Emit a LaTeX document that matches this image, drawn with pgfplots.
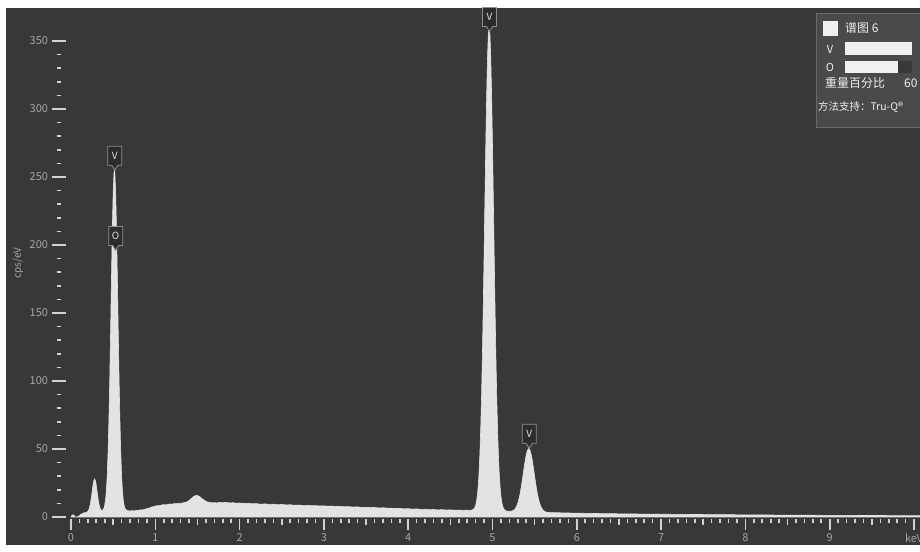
\documentclass[border=0pt]{standalone}
\usepackage{fontspec}
\setmainfont{Noto Sans CJK SC}
\usepackage{pgfplots}
\pgfplotsset{compat=1.18}

\definecolor{panel}{HTML}{383838}
\definecolor{specfill}{HTML}{E3E3E3}
\definecolor{tickcol}{HTML}{D2D2D2}
\definecolor{labcol}{HTML}{A6A6A6}
\definecolor{boxfill}{HTML}{4A4A4A}
\definecolor{boxline}{HTML}{6A6A6A}
\definecolor{lblfill}{HTML}{2C2C2C}
\definecolor{lblline}{HTML}{909090}
\definecolor{lbltext}{HTML}{E0E0E0}
\definecolor{legtext}{HTML}{F0F0F0}

% peak marker: tip at the peak, box above it
\newcommand\peaklabel[3]{%
  \draw[draw=lblline, fill=lblfill, line width=0.8bp]
    (axis cs:#1,#2) -- ++(-3bp,5bp) -- ++(-4bp,0bp) -- ++(0bp,19bp)
    -- ++(14bp,0bp) -- ++(0bp,-19bp) -- ++(-4bp,0bp) -- cycle;
  \node[text=lbltext, font=\fontsize{10}{12}\selectfont, yshift=14.5bp]
    at (axis cs:#1,#2) {#3};
}

\pgfplotsset{
  specaxis/.style={
    scale only axis, width=866bp, height=512bp,
    at={(59bp,33bp)}, anchor=south west,
    xmin=-0.14235, xmax=10.1305, ymin=-1.47, ymax=375,
    axis line style={draw=none},
    tick style={tickcol, line width=1.6bp},
    /pgf/number format/assume math mode=true,
    ticklabel style={font=\fontsize{11}{13}\selectfont, text=labcol},
  }
}

\begin{document}
\begin{tikzpicture}[x=1bp,y=1bp]
\clip (0,0) rectangle (920,552);
\fill[white] (0,0) rectangle (920,552);
\fill[panel] (6,7) rectangle (930,544);

% spectrum + energy axis
\begin{axis}[specaxis, hide y axis,
  xtick={0,...,10}, xticklabels={0,1,2,3,4,5,6,7,8,9,keV},
  minor x tick num=9, xtick pos=left, tick align=outside,
  major tick length=11bp, minor tick length=4.5bp,
  extra x ticks={0.5,1.5,2.5,3.5,4.5,5.5,6.5,7.5,8.5,9.5},
  extra x tick labels={}, extra x tick style={major tick length=6.5bp}]
\addplot[draw=specfill, line width=0.6bp, fill=specfill] coordinates {
(0.00,0) (0.01,1.2) (0.02,1.6) (0.03,1.5) (0.04,0.8) (0.05,0) (0.07,0)
(0.09,0.6) (0.10,1.0) (0.11,1.6) (0.12,2.0) (0.13,2.4) (0.14,2.7) (0.15,3.0)
(0.16,3.1) (0.17,3.2) (0.18,3.3) (0.19,3.6) (0.20,4.2) (0.21,5.1) (0.22,6.9)
(0.23,9.7) (0.24,13.6) (0.25,18.4) (0.26,23.0) (0.27,26.5) (0.28,27.9)
(0.29,26.7) (0.30,23.2) (0.31,18.6) (0.32,13.9) (0.33,10.0) (0.34,7.3)
(0.35,5.7) (0.36,5.0) (0.37,4.9) (0.38,5.3) (0.39,6.4) (0.40,8.6) (0.41,12.7)
(0.42,19.7) (0.43,31.0) (0.44,48.1) (0.45,71.8) (0.46,102.2) (0.47,137.7)
(0.48,175.5) (0.49,210.7) (0.50,238.0) (0.51,253.0) (0.515,255.0) (0.52,253.0)
(0.53,238.0) (0.54,210.7) (0.55,175.5) (0.56,137.7) (0.57,101.8) (0.58,71.6)
(0.59,47.9) (0.60,30.7) (0.61,19.4) (0.62,12.4) (0.63,8.5) (0.64,6.5)
(0.65,5.5) (0.66,5.0) (0.67,4.7) (0.68,4.6) (0.70,4.4) (0.72,4.6) (0.75,4.5)
(0.78,4.8) (0.80,4.9) (0.83,5.3) (0.85,5.2) (0.88,5.8) (0.90,6.1) (0.93,6.6)
(0.95,7.2) (0.98,7.6) (1.00,8.0) (1.03,8.4) (1.05,8.3) (1.08,8.9) (1.10,9.1)
(1.13,8.9) (1.15,9.3) (1.18,9.6) (1.20,9.4) (1.23,9.9) (1.25,9.7) (1.28,10.1)
(1.30,10.0) (1.33,10.4) (1.35,10.7) (1.38,11.2) (1.40,12.1) (1.43,13.7)
(1.46,15.3) (1.49,15.9) (1.52,15.3) (1.55,13.7) (1.58,12.3) (1.61,11.2)
(1.64,10.8) (1.67,10.4) (1.70,10.6) (1.73,10.3) (1.76,10.7) (1.80,10.5)
(1.84,10.8) (1.88,10.3) (1.92,10.5) (1.96,10.1) (2.00,10.3) (2.05,9.9)
(2.10,10.1) (2.15,9.7) (2.20,9.8) (2.25,9.4) (2.30,9.6) (2.35,9.3) (2.40,9.4)
(2.45,9.0) (2.50,9.2) (2.55,8.9) (2.60,9.0) (2.65,8.6) (2.70,8.8) (2.75,8.5)
(2.80,8.6) (2.85,8.3) (2.90,8.4) (2.95,8.1) (3.00,8.2) (3.05,7.9) (3.10,8.0)
(3.15,7.7) (3.20,7.8) (3.25,7.5) (3.30,7.6) (3.35,7.3) (3.40,7.4) (3.45,7.0)
(3.50,7.2) (3.55,6.9) (3.60,7.0) (3.65,6.6) (3.70,6.8) (3.75,6.5) (3.80,6.5)
(3.85,6.2) (3.90,6.3) (3.95,6.0) (4.00,6.1) (4.05,5.8) (4.10,5.9) (4.15,5.6)
(4.20,5.7) (4.25,5.4) (4.30,5.5) (4.35,5.2) (4.40,5.4) (4.45,5.1) (4.50,5.2)
(4.55,5.0) (4.60,5.1) (4.65,4.9) (4.70,5.0) (4.73,4.8) (4.76,5.2) (4.78,6.0)
(4.79,7.0) (4.80,8.5) (4.81,11.3) (4.82,15.7) (4.83,22.4) (4.84,32.2)
(4.85,46.0) (4.86,64.8) (4.87,88.9) (4.88,118.7) (4.89,153.5) (4.90,192.2)
(4.91,232.7) (4.92,272.4) (4.93,307.8) (4.94,336.2) (4.95,354.3) (4.96,360.5)
(4.97,354.2) (4.98,336.1) (4.99,307.7) (5.00,272.3) (5.01,232.6) (5.02,192.1)
(5.03,153.2) (5.04,118.4) (5.05,88.6) (5.06,64.5) (5.07,45.7) (5.08,31.8)
(5.09,22.0) (5.10,15.2) (5.11,10.8) (5.12,8.0) (5.13,6.4) (5.14,5.4)
(5.16,4.5) (5.18,4.2) (5.20,4.2) (5.22,4.2) (5.24,4.6) (5.26,5.4) (5.27,6.1)
(5.28,7.2) (5.29,8.5) (5.30,10.2) (5.31,12.4) (5.32,15.0) (5.33,18.1)
(5.34,21.7) (5.35,25.7) (5.36,29.9) (5.37,34.2) (5.38,38.4) (5.39,42.3)
(5.40,45.6) (5.41,48.2) (5.42,49.7) (5.43,50.3) (5.44,49.6) (5.45,48.1)
(5.46,45.5) (5.47,42.2) (5.48,38.3) (5.49,34.1) (5.50,29.7) (5.51,25.5)
(5.52,21.5) (5.53,17.9) (5.54,14.8) (5.55,12.2) (5.56,9.9) (5.57,8.1)
(5.58,6.8) (5.59,5.8) (5.60,5.0) (5.62,4.0) (5.64,3.5) (5.66,3.3) (5.70,3.2)
(5.75,3.1) (5.80,3.1) (5.85,2.9) (5.90,3.0) (5.95,2.8) (6.00,2.8) (6.10,2.7)
(6.20,2.6) (6.30,2.5) (6.40,2.5) (6.50,2.3) (6.60,2.3) (6.70,2.2) (6.80,2.1)
(6.90,2.1) (7.00,2.0) (7.10,2.0) (7.20,1.9) (7.30,1.9) (7.40,1.8) (7.50,1.8)
(7.60,1.7) (7.70,1.7) (7.80,1.7) (7.90,1.6) (8.00,1.6) (8.20,1.5) (8.40,1.4)
(8.60,1.4) (8.80,1.3) (9.00,1.2) (9.20,1.2) (9.40,1.1) (9.60,1.1) (9.80,1.0)
(10.00,1.0) (10.13,1.0)
} \closedcycle;
\peaklabel{0.52}{255}{V}
\peaklabel{0.53}{196}{O}
\peaklabel{4.965}{357}{V}
\peaklabel{5.435}{50.5}{V}
\end{axis}

% count axis
\begin{axis}[specaxis, hide x axis,
  ytick={0,50,...,350}, minor y tick num=4, ytick pos=left,
  tick align=center, major tick length=15bp, minor tick length=5bp,
  ylabel={cps/eV},
  ylabel style={at={(axis description cs:-0.0473,0.5)}, anchor=center,
    font=\fontsize{10}{12}\selectfont, text=labcol}]
\end{axis}

% spectrum info box (top right)
\fill[boxfill, draw=boxline, line width=0.8bp] (816,425) rectangle (940,539);
\fill[legtext] (823,516) rectangle (838,531);
\node[anchor=west, text=legtext, inner sep=0, font=\fontsize{12}{14}\selectfont] at (845,524) {谱图 6};
\node[anchor=center, text=legtext, inner sep=0, font=\fontsize{11}{13}\selectfont] at (830,503) {V};
\fill[legtext] (845,497) rectangle (912,510);
\node[anchor=center, text=legtext, inner sep=0, font=\fontsize{11}{13}\selectfont] at (830,485) {O};
\fill[panel] (845,479) rectangle (912,491);
\fill[legtext] (845,479) rectangle (898,491);
\node[anchor=west, text=legtext, inner sep=0, font=\fontsize{12}{14}\selectfont] at (825,469) {重量百分比};
\node[anchor=west, text=legtext, inner sep=0, font=\fontsize{12}{14}\selectfont] at (904,469) {60};
\node[anchor=west, text=legtext, inner sep=0, font=\fontsize{10.5}{12}\selectfont] at (818,445) {方法支持：Tru-Q®};
\end{tikzpicture}
\end{document}
